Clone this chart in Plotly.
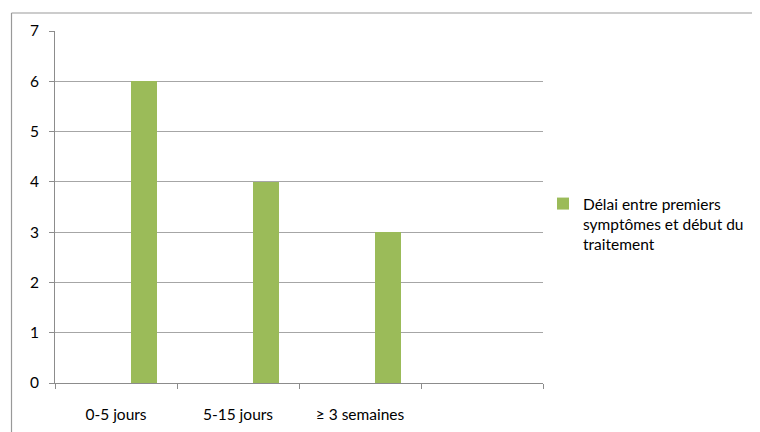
import plotly.graph_objects as go

categories = ["0-5 jours", "5-15 jours", "≥ 3 semaines", " "]
values = [6, 4, 3, None]
series_name = "Délai entre premiers<br>symptômes et début du<br>traitement"

FONT = "Lato"
FS = 15.5
# the page body adds an 8px margin, so the figure is drawn 8px smaller
W, H = 752, 424
L, R, T, B = 47, 217, 23, 49
pw, ph = W - L - R, H - T - B

def px_x(p):
    return (p - L) / pw

def px_y(p):
    return (H - B - p) / ph

fig = go.Figure()
fig.add_trace(go.Bar(
    x=categories, y=values, name=series_name,
    marker=dict(color="#9BBB59", line=dict(width=0)),
    width=0.213, offset=0.123, showlegend=True,
))

# outer chart frame (partially visible in the reference)
fig.add_shape(type="line", xref="paper", yref="paper",
              x0=px_x(3.5), x1=px_x(3.5), y0=px_y(5), y1=px_y(H),
              line=dict(color="#999999", width=1.2), layer="above")
fig.add_shape(type="line", xref="paper", yref="paper",
              x0=px_x(3.5), x1=px_x(W), y0=px_y(5), y1=px_y(5),
              line=dict(color="#999999", width=1.2), layer="above")

fig.update_layout(
    width=W, height=H,
    margin=dict(l=L, r=R, t=T, b=B, autoexpand=False),
    paper_bgcolor="white", plot_bgcolor="white",
    font=dict(family=FONT, size=FS, color="#000000"),
    bargap=0,
    legend=dict(x=px_x(535), y=px_y(179), xanchor="left", yanchor="top",
                font=dict(family=FONT, size=FS, color="#000000"),
                valign="top", bgcolor="rgba(0,0,0,0)", tracegroupgap=0),
    xaxis=dict(
        type="category", categoryorder="array", categoryarray=categories,
        range=[-0.5, 3.5], tickson="boundaries", ticks="outside", ticklen=5,
        tickcolor="#8c8c8c", showline=True, linecolor="#8c8c8c", linewidth=1,
        showgrid=False, zeroline=False, ticklabelstandoff=17, automargin=False,
        tickfont=dict(family=FONT, size=FS),
    ),
    yaxis=dict(
        range=[0, 7], dtick=1, tick0=0, ticks="outside", ticklen=5,
        tickcolor="#8c8c8c", showline=True, linecolor="#8c8c8c", linewidth=1,
        showgrid=True, gridcolor="#a6a6a6", gridwidth=1, zeroline=False,
        ticklabelstandoff=7, automargin=False,
        tickfont=dict(family=FONT, size=FS),
    ),
)

fig.write_html("out.html")
